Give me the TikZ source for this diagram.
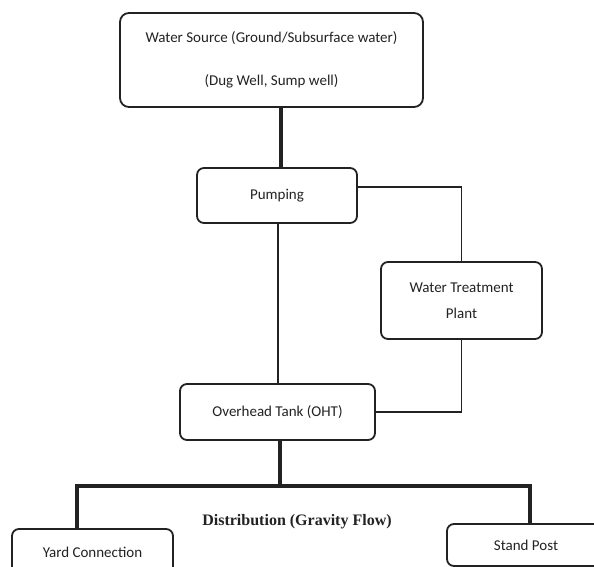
\documentclass[tikz,border=0pt]{standalone}
\usepackage{fontspec}
\setmainfont{Carlito}
\newfontfamily\serifdist{Liberation Serif}
\usetikzlibrary{calc}
\definecolor{ink}{HTML}{222222}
\begin{document}
\begin{tikzpicture}[x=1pt,y=-1pt,
  boxstyle/.style={draw=ink, line width=1.8pt, rounded corners=7pt, align=center,
    inner sep=0pt, font=\fontsize{15}{18}\selectfont, text=ink},
  thinline/.style={draw=ink, line width=1.8pt},
  thickline/.style={draw=ink, line width=3.2pt}]
\useasboundingbox (0,0) rectangle (594,567);
\clip (0,0) rectangle (594,567);
\node[boxstyle, minimum width=303pt, minimum height=94pt, rounded corners=9pt] (water) at (271.5,60)
  {Water Source (Ground/Subsurface water)\\[25pt](Dug Well, Sump well)};
\node[boxstyle, minimum width=160pt, minimum height=55pt] (pump) at (277,195.5) {Pumping};
\node[boxstyle, minimum width=161pt, minimum height=77pt] (wtp) at (461.5,300.5) {Water Treatment\\[8pt]Plant};
\node[boxstyle, minimum width=195pt, minimum height=56pt] (oht) at (277.5,412) {Overhead Tank (OHT)};
\node[boxstyle, minimum width=161pt, minimum height=46pt] (yard) at (92.5,552) {Yard Connection};
\node[boxstyle, minimum width=158pt, minimum height=42pt] (stand) at (526,545) {Stand Post};
\node[font=\serifdist\bfseries\fontsize{16}{18}\selectfont, text=ink] (dist) at (297,522) {Distribution (Gravity Flow)};
\coordinate (bus) at (280,486);
\draw[thickline] ([xshift=9.5pt]water.south) -- ([xshift=4pt]pump.north);
\draw[thinline] ([xshift=1pt]pump.south) -- ([xshift=0.5pt]oht.north);
\draw[thinline] ([yshift=8.5pt]pump.east) -| (wtp.north);
\draw[thinline] (wtp.south) |- (oht.east);
\draw[thickline] ([xshift=2.5pt]oht.south) -- (bus);
\draw[thickline] ([xshift=-15.5pt]yard.north) |- (bus) -| ([xshift=4pt]stand.north);
\end{tikzpicture}
\end{document}
